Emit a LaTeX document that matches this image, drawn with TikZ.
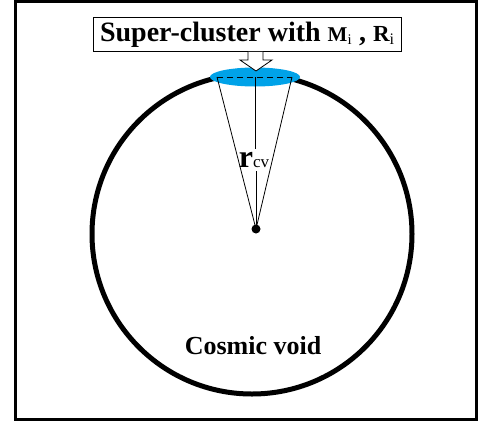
\documentclass[tikz,border=0pt]{standalone}
\usepackage{fontspec}
\setmainfont{Liberation Serif}
\usetikzlibrary{positioning, calc, shapes.geometric}
\definecolor{clusterblue}{HTML}{00A2E8}

\begin{document}
\begin{tikzpicture}[
    x=1pt, y=-1pt,
    frame/.style={draw, line width=3pt},
    voidline/.style={draw, line width=5pt},
    thinline/.style={draw, line width=0.8pt},
    tag/.style={draw, line width=0.8pt, inner xsep=2pt, inner ysep=0pt,
                minimum width=308pt, minimum height=34pt,
                font=\fontsize{28}{28}\selectfont\bfseries},
    big/.style={font=\fontsize{26}{26}\selectfont\bfseries},
  ]
  \useasboundingbox (0,0) rectangle (479,426);

  % ── outer frame ──
  \draw[frame] (15.5,1.5) rectangle (476.5,419.5);

  % ── the void ──
  \draw[voidline] (252,234) circle[radius=160];
  \node[big] (void) at (253,346) {Cosmic void};

  % ── super-cluster cap ──
  \node[ellipse, fill=clusterblue, minimum width=90pt, minimum height=19pt, inner sep=0pt] (sc) at (255,77) {};
  \coordinate (cl) at (217,77);
  \coordinate (cr) at (292,77);
  \draw[dash pattern=on 6pt off 4pt, line width=0.7pt] (cl) -- (cr);

  % ── centre and cone ──
  \node[circle, fill, inner sep=0pt, minimum size=9pt] (cen) at (256,229) {};
  \node (rcv) at (254,160) {{\fontsize{32}{32}\selectfont\bfseries r}{\fontsize{17}{17}\selectfont cv}};
  \draw[thinline] (cl) -- (cen.center);
  \draw[thinline] (cr) -- (cen.center);
  \draw[thinline] (sc.center) -- (rcv.north -| sc.center);
  \draw[thinline] (rcv.south -| cen) -- (cen.center);

  % ── label and hollow arrow ──
  \node[tag, anchor=north west] (lbl) at (93,17)
    {Super-cluster with {\fontsize{21}{21}\selectfont M\textsubscript{\mdseries i}} , {\fontsize{23}{23}\selectfont R\textsubscript{\mdseries i}}};
  \draw[line width=0.8pt, fill=white]
    (lbl.south -| 248,0) -- (248,60) -- (240,60) -- (256,71) -- (272,60) -- (263,60) -- (lbl.south -| 263,0);

\end{tikzpicture}
\end{document}
